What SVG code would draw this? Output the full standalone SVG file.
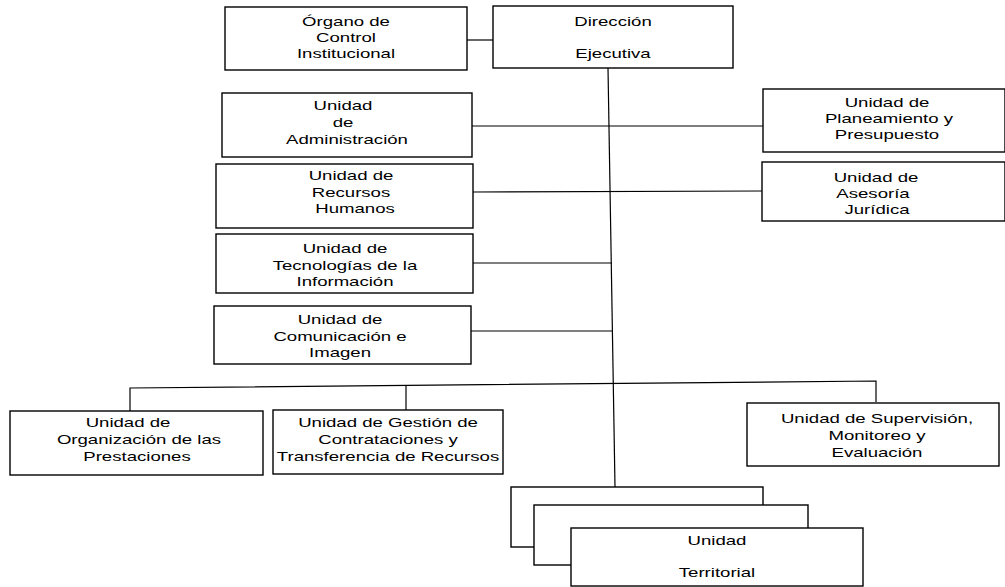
<svg xmlns="http://www.w3.org/2000/svg" width="1005" height="587" viewBox="0 0 1005 587">
<style>
.box{fill:#fff;stroke:#000;stroke-width:1.4}
.ln{fill:none;stroke:#000;stroke-width:1.2}
text{font-family:"Liberation Sans",Arial,sans-serif;font-size:13px;fill:#000;text-anchor:middle}
</style>
<rect width="1005" height="587" fill="#fff"/>
<g id="connectors">
<line class="ln" x1="467" y1="40" x2="493" y2="40"/>
<line class="ln" x1="608" y1="68" x2="615" y2="487"/>
<line class="ln" x1="472" y1="126" x2="763" y2="126"/>
<line class="ln" x1="473" y1="192" x2="762" y2="191"/>
<line class="ln" x1="473" y1="263" x2="612" y2="263"/>
<line class="ln" x1="471" y1="331" x2="613" y2="331"/>
<polyline class="ln" points="130,411 130,388 876,381 876,402"/>
<line class="ln" x1="406" y1="386" x2="406" y2="410"/>
</g>
<g id="organo"><rect class="box" x="225" y="7" width="242" height="63"/>
<text transform="translate(346,26) scale(1.43,1)">Órgano de</text><text transform="translate(346,42) scale(1.43,1)">Control</text><text transform="translate(346,58) scale(1.43,1)">Institucional</text></g>
<g id="direccion"><rect class="box" x="493" y="6" width="240" height="62"/>
<text transform="translate(613,26) scale(1.43,1)">Dirección</text><text transform="translate(613,58) scale(1.43,1)">Ejecutiva</text></g>
<g id="administracion"><rect class="box" x="222" y="93" width="250" height="64"/>
<text transform="translate(343,110) scale(1.43,1)">Unidad</text><text transform="translate(343,127) scale(1.43,1)">de</text><text transform="translate(347,144) scale(1.43,1)">Administración</text></g>
<g id="planeamiento"><rect class="box" x="763" y="89" width="242" height="63"/>
<text transform="translate(887,107) scale(1.43,1)">Unidad de</text><text transform="translate(889,123) scale(1.43,1)">Planeamiento y</text><text transform="translate(887,139) scale(1.43,1)">Presupuesto</text></g>
<g id="rrhh"><rect class="box" x="216" y="164" width="257" height="64"/>
<text transform="translate(351,180) scale(1.43,1)">Unidad de</text><text transform="translate(351,197) scale(1.43,1)">Recursos</text><text transform="translate(355,213) scale(1.43,1)">Humanos</text></g>
<g id="asesoria"><rect class="box" x="762" y="162" width="243" height="59"/>
<text transform="translate(876,182) scale(1.43,1)">Unidad de</text><text transform="translate(873,198) scale(1.43,1)">Asesoría</text><text transform="translate(877,214) scale(1.43,1)">Jurídica</text></g>
<g id="tecnologias"><rect class="box" x="216" y="234" width="257" height="59"/>
<text transform="translate(345,253) scale(1.43,1)">Unidad de</text><text transform="translate(345,270) scale(1.43,1)">Tecnologías de la</text><text transform="translate(345,286) scale(1.43,1)">Información</text></g>
<g id="comunicacion"><rect class="box" x="214" y="306" width="257" height="58"/>
<text transform="translate(340,324) scale(1.43,1)">Unidad de</text><text transform="translate(340,341) scale(1.43,1)">Comunicación e</text><text transform="translate(340,357) scale(1.43,1)">Imagen</text></g>
<g id="organizacion"><rect class="box" x="10" y="411" width="253" height="64"/>
<text transform="translate(128,427) scale(1.43,1)">Unidad de</text><text transform="translate(139,444) scale(1.43,1)">Organización de las</text><text transform="translate(137,461) scale(1.43,1)">Prestaciones</text></g>
<g id="gestion"><rect class="box" x="273" y="410" width="230" height="64"/>
<text transform="translate(388,427) scale(1.43,1)">Unidad de Gestión de</text><text transform="translate(388,444) scale(1.43,1)">Contrataciones y</text><text transform="translate(388,461) scale(1.43,1)">Transferencia de Recursos</text></g>
<g id="supervision"><rect class="box" x="747" y="403" width="252" height="63"/>
<text transform="translate(877,423) scale(1.43,1)">Unidad de Supervisión,</text><text transform="translate(877,440) scale(1.43,1)">Monitoreo y</text><text transform="translate(877,457) scale(1.43,1)">Evaluación</text></g>
<g id="territorial">
<rect class="box" x="511" y="487" width="252" height="60"/>
<rect class="box" x="534" y="505" width="274" height="60"/>
<rect class="box" x="571" y="528" width="292" height="58"/>
<text transform="translate(717,545) scale(1.43,1)">Unidad</text><text transform="translate(717,577) scale(1.43,1)">Territorial</text></g>
</svg>
